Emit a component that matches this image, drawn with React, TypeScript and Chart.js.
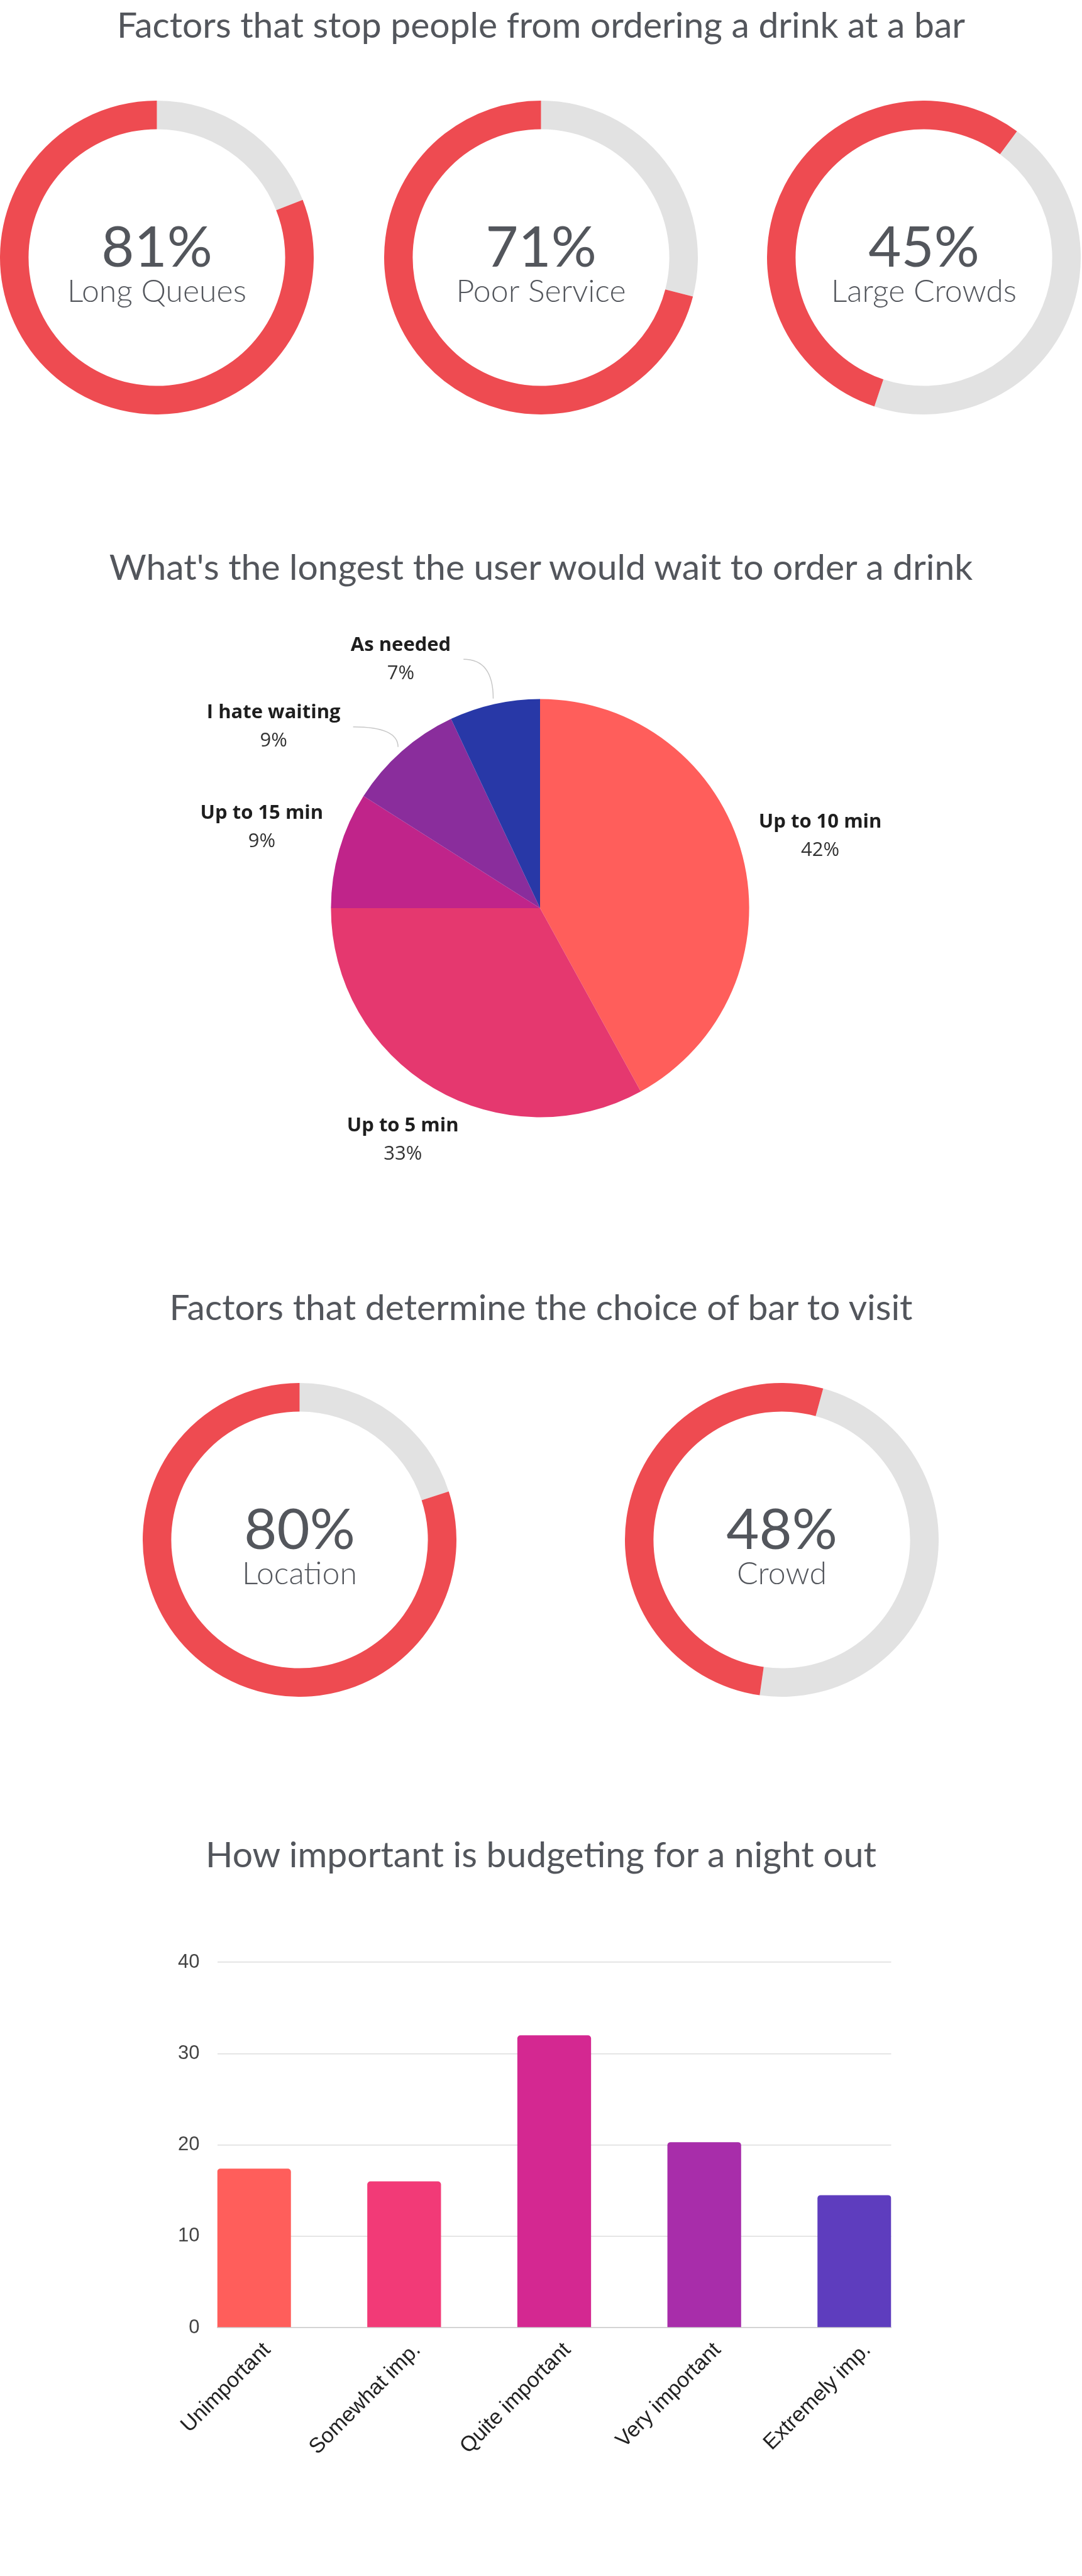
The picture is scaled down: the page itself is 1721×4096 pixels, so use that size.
import React, { useEffect, useRef } from "react";
import { Chart, registerables } from "chart.js";

Chart.register(...registerables);

// ---------------- data ----------------
const stopTitle = "Factors that stop people from ordering a drink at a bar";
const stopLabels = ["Long Queues", "Poor Service", "Large Crowds"];
const stopPercents = [81, 71, 45];
const stopRingRed = [81, 71, 55];
const stopRingGrey = [19, 29, 45];

const waitTitle = "What's the longest the user would wait to order a drink";
const waitLabels = ["Up to 10 min", "Up to 5 min", "Up to 15 min", "I hate waiting", "As needed"];
const waitValues = [42, 33, 9, 9, 7];

const choiceTitle = "Factors that determine the choice of bar to visit";
const choiceLabels = ["Location", "Crowd"];
const choicePercents = [80, 48];
const choiceRingRed = [80, 52];
const choiceRingGrey = [20, 48];

const budgetTitle = "How important is budgeting for a night out";
const budgetLabels = ["Unimportant", "Somewhat imp.", "Quite important", "Very important", "Extremely imp."];
const budgetValues = [17.4, 16, 32, 20.3, 14.5];
const budgetTicks = [0, 10, 20, 30, 40];

// ---------------- style / layout ----------------
const RED = "#EE4B51";
const GREY = "#E2E2E2";
const TEXT = "#53565C";
const TITLE_FONT = "Lato, 'Open Sans', sans-serif";
const pieColors = ["#FF5E5B", "#E5386F", "#C0248A", "#8A2D9C", "#2838A7"];
const barColors = ["#FF5E5B", "#F23A77", "#D42891", "#A82DAA", "#5E3DBE"];

const stopCenters = [
  { x: 249.5, y: 409 },
  { x: 860, y: 409 },
  { x: 1469, y: 409 },
];
const stopRotations = [0, 0, 36.4];
const choiceCenters = [
  { x: 476, y: 2448 },
  { x: 1243, y: 2448 },
];
const choiceRotations = [0, 15.3];
const RING_R = 249.5;

const centerTextPlugin = {
  id: "centerText",
  afterDatasetsDraw(chart: any, _args: any, opts: any) {
    const ctx = chart.ctx;
    const meta = chart.getDatasetMeta(0);
    const arc = meta.data[0];
    if (!arc) return;
    const cx = arc.x;
    const cy = arc.y;
    ctx.save();
    ctx.fillStyle = TEXT;
    ctx.textAlign = "center";
    ctx.textBaseline = "alphabetic";
    ctx.font = `400 90px ${TITLE_FONT}`;
    ctx.fillText(opts.pct, cx, cy + 14);
    ctx.font = `300 50px ${TITLE_FONT}`;
    ctx.fillText(opts.label, cx, cy + 70);
    ctx.restore();
  },
};

const pieLabelPlugin = {
  id: "pieLabels",
  afterDatasetsDraw(chart: any, _args: any, opts: any) {
    const ctx = chart.ctx;
    const meta = chart.getDatasetMeta(0);
    const labels = chart.data.labels;
    const data = chart.data.datasets[0].data as number[];
    const total = data.reduce((a: number, b: number) => a + b, 0);
    const nameFont = "700 31px 'Open Sans', sans-serif";
    const pctFont = "400 31px 'Open Sans', sans-serif";
    const lineGap = 45;
    ctx.save();
    meta.data.forEach((arc: any, i: number) => {
      const { x, y, startAngle, endAngle, outerRadius } = arc.getProps(
        ["x", "y", "startAngle", "endAngle", "outerRadius"],
        true
      );
      const mid = (startAngle + endAngle) / 2;
      const name = labels[i];
      const pct = Math.round((data[i] / total) * 100) + "%";
      ctx.font = nameFont;
      const nw = ctx.measureText(name).width;
      let bx: number;
      let by: number;
      if (opts.leader[i]) {
        const r1 = outerRadius * 1.027;
        const p1 = { x: x + Math.cos(mid) * r1, y: y + Math.sin(mid) * r1 };
        const a2 = mid - (4.5 * Math.PI) / 180;
        const r2 = outerRadius * 1.245;
        const p2 = { x: x + Math.cos(a2) * r2, y: y + Math.sin(a2) * r2 };
        ctx.strokeStyle = "#C8C8C8";
        ctx.lineWidth = 1.5;
        ctx.beginPath();
        ctx.moveTo(p2.x, p2.y);
        ctx.quadraticCurveTo(p1.x, p2.y, p1.x, p1.y);
        ctx.stroke();
        bx = p2.x - 20 - nw / 2;
        by = p2.y;
      } else {
        const dx = Math.cos(mid);
        const dy = Math.sin(mid);
        const hw = nw / 2;
        const hh = 60;
        const ext = Math.min(hw / Math.max(Math.abs(dx), 1e-6), hh / Math.max(Math.abs(dy), 1e-6));
        const R = outerRadius + 26.5 + ext;
        bx = x + dx * R;
        by = y + dy * R;
      }
      ctx.textAlign = "center";
      ctx.textBaseline = "middle";
      ctx.fillStyle = "#1E1E1E";
      ctx.font = nameFont;
      ctx.fillText(name, bx, by - lineGap / 2);
      ctx.fillStyle = "#333333";
      ctx.font = pctFont;
      ctx.fillText(pct, bx, by + lineGap / 2);
    });
    ctx.restore();
  },
};

function ChartCanvas(props: { left: number; top: number; width: number; height: number; make: () => any }) {
  const ref = useRef<HTMLCanvasElement | null>(null);
  useEffect(() => {
    const chart = new Chart(ref.current as HTMLCanvasElement, props.make());
    return () => chart.destroy();
  }, []);
  return (
    <canvas
      ref={ref}
      width={props.width}
      height={props.height}
      style={{ position: "absolute", left: props.left, top: props.top, width: props.width, height: props.height }}
    />
  );
}

function ringConfig(grey: number, red: number, rotation: number, pct: number, label: string) {
  return () => ({
    type: "doughnut",
    data: {
      labels: ["rest", "value"],
      datasets: [{ data: [grey, red], backgroundColor: [GREY, RED], borderWidth: 0 }],
    },
    options: {
      responsive: false,
      animation: false,
      devicePixelRatio: 1,
      cutout: "81.8%",
      rotation,
      events: [],
      layout: { padding: 0 },
      plugins: {
        legend: { display: false },
        tooltip: { enabled: false },
        centerText: { pct: pct + "%", label },
      },
    },
    plugins: [centerTextPlugin],
  });
}

function Title(props: { text: string; baseline: number }) {
  const fs = 57;
  return (
    <div
      style={{
        position: "absolute",
        left: 0,
        width: 1721,
        top: props.baseline - 0.887 * fs,
        textAlign: "center",
        fontFamily: TITLE_FONT,
        fontWeight: 400,
        fontSize: fs,
        lineHeight: `${fs}px`,
        color: TEXT,
        whiteSpace: "nowrap",
      }}
    >
      {props.text}
    </div>
  );
}

const PIE = { left: 0, top: 900, width: 1721, height: 1020, cx: 859, cy: 1444, r: 332.6 };
const BAR = { left: 0, top: 3040, width: 1721, height: 1056, areaLeft: 345.5, areaRight: 1417.5, areaTop: 3120, areaBottom: 3701 };

function pieConfig() {
  const ccx = PIE.cx - PIE.left;
  const ccy = PIE.cy - PIE.top;
  return {
    type: "pie",
    data: {
      labels: waitLabels,
      datasets: [{ data: waitValues, backgroundColor: pieColors, borderWidth: 0 }],
    },
    options: {
      responsive: false,
      animation: false,
      devicePixelRatio: 1,
      events: [],
      layout: {
        padding: {
          left: ccx - PIE.r,
          right: PIE.width - ccx - PIE.r,
          top: ccy - PIE.r,
          bottom: PIE.height - ccy - PIE.r,
        },
      },
      plugins: {
        legend: { display: false },
        tooltip: { enabled: false },
        pieLabels: { leader: [false, false, false, true, true] },
      },
    },
    plugins: [pieLabelPlugin],
  };
}

function barConfig() {
  const yAxisW = 100;
  const xAxisH = 300;
  const areaTop = BAR.areaTop - BAR.top;
  const areaBottom = BAR.areaBottom - BAR.top;
  return {
    type: "bar",
    data: {
      datasets: [
        {
          data: budgetValues.map((v, i) => ({ x: i, y: v })),
          backgroundColor: barColors,
          borderWidth: 0,
          borderRadius: 5,
          borderSkipped: "start",
          barPercentage: 0.4913,
          categoryPercentage: 1,
        },
      ],
    },
    options: {
      responsive: false,
      animation: false,
      devicePixelRatio: 1,
      events: [],
      layout: {
        padding: {
          left: BAR.areaLeft - yAxisW,
          right: BAR.width - BAR.areaRight,
          top: areaTop,
          bottom: BAR.height - areaBottom - xAxisH,
        },
      },
      plugins: { legend: { display: false }, tooltip: { enabled: false } },
      scales: {
        x: {
          type: "linear",
          offset: false,
          min: -0.2456,
          max: budgetLabels.length - 1 + 0.2456,
          afterBuildTicks: (axis: any) => {
            axis.ticks = budgetLabels.map((_, i) => ({ value: i }));
          },
          afterFit: (s: any) => {
            s.height = xAxisH;
          },
          ticks: {
            autoSkip: false,
            minRotation: 45,
            maxRotation: 45,
            padding: 16,
            labelOffset: 21,
            color: "#222222",
            font: { family: "'Liberation Sans', Arial, sans-serif", size: 34 },
            callback: (v: number) => budgetLabels[v] ?? "",
          },
          grid: { display: false, drawTicks: false, offset: false },
          border: { display: true, color: "#CCCCCC", width: 1.5 },
        },
        y: {
          min: budgetTicks[0],
          max: budgetTicks[budgetTicks.length - 1],
          afterFit: (s: any) => {
            s.width = yAxisW;
          },
          afterBuildTicks: (axis: any) => {
            axis.ticks = budgetTicks.map((v) => ({ value: v }));
          },
          ticks: {
            padding: 28,
            color: "#444444",
            font: { family: "'Liberation Sans', Arial, sans-serif", size: 31 },
          },
          grid: { color: "#DDDDDD", lineWidth: 1.5, drawTicks: false },
          border: { display: false },
        },
      },
    },
  };
}

export default function App() {
  return (
    <div
      style={{
        position: "absolute",
        left: 0,
        top: 0,
        width: 1721,
        height: 4096,
        overflow: "hidden",
        background: "#FFFFFF",
      }}
    >
      {stopCenters.map((c, i) => (
        <ChartCanvas
          key={"s" + i}
          left={c.x - RING_R}
          top={c.y - RING_R}
          width={RING_R * 2}
          height={RING_R * 2}
          make={ringConfig(stopRingGrey[i], stopRingRed[i], stopRotations[i], stopPercents[i], stopLabels[i])}
        />
      ))}
      <ChartCanvas left={PIE.left} top={PIE.top} width={PIE.width} height={PIE.height} make={pieConfig} />
      {choiceCenters.map((c, i) => (
        <ChartCanvas
          key={"c" + i}
          left={c.x - RING_R}
          top={c.y - RING_R}
          width={RING_R * 2}
          height={RING_R * 2}
          make={ringConfig(choiceRingGrey[i], choiceRingRed[i], choiceRotations[i], choicePercents[i], choiceLabels[i])}
        />
      ))}
      <ChartCanvas left={BAR.left} top={BAR.top} width={BAR.width} height={BAR.height} make={barConfig} />
      <Title text={stopTitle} baseline={61} />
      <Title text={waitTitle} baseline={923} />
      <Title text={choiceTitle} baseline={2100} />
      <Title text={budgetTitle} baseline={2970} />
    </div>
  );
}
